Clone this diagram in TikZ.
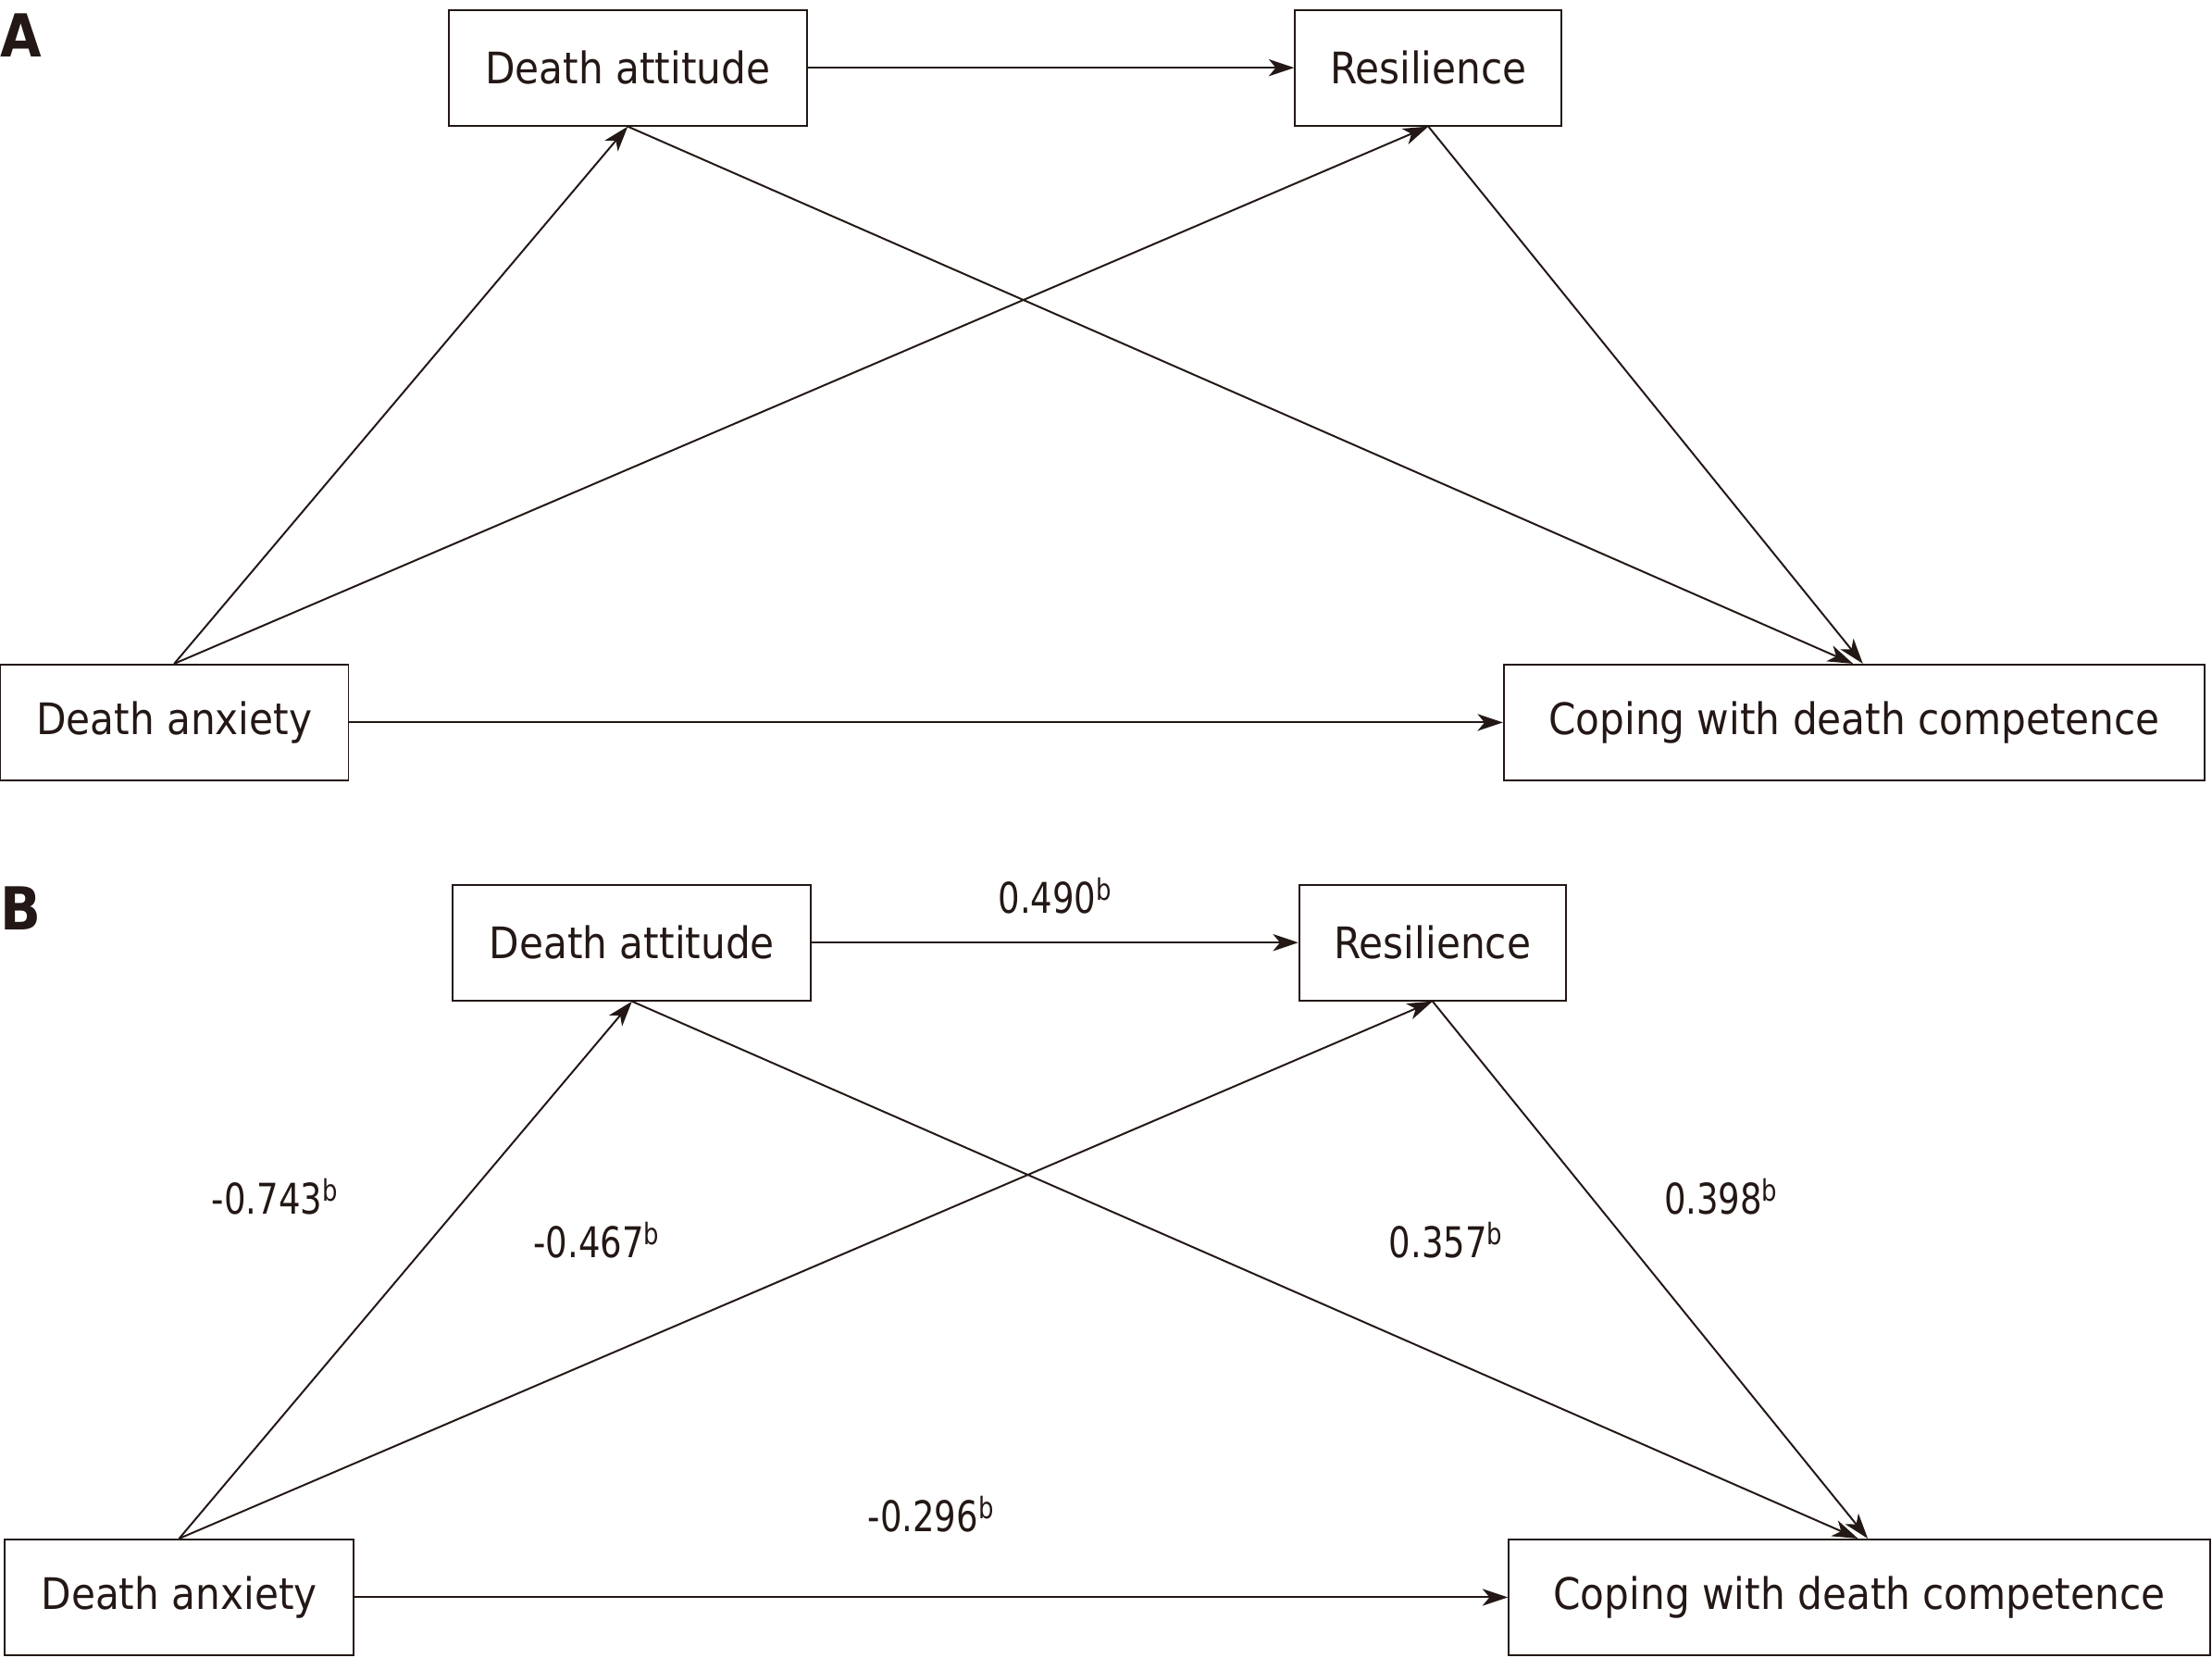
\documentclass[tikz,border=0pt]{standalone}
\usepackage{fontspec}
\setmainfont{DejaVu Sans Condensed}
\newfontfamily\numfont[FakeStretch=0.9]{DejaVu Sans Condensed}
\usetikzlibrary{arrows.meta}
\definecolor{ink}{HTML}{231815}
\begin{document}
\begin{tikzpicture}[x=1pt,y=-1pt,
  box/.style={draw=ink,line width=1.3pt,inner sep=0pt,minimum height=82pt,text=ink,font=\fontsize{30.8}{36}\selectfont},
  conn/.style={draw=ink,line width=1.3pt,-{Stealth[length=18pt,width=12pt,inset=5pt]}},
  lbl/.style={text=ink,inner sep=0pt,font=\numfont\fontsize{30}{35}\selectfont},
  panel/.style={text=ink,inner sep=0pt,font=\fontsize{42}{48}\bfseries\selectfont}]
\useasboundingbox (0,0) rectangle (1568,1175);
% Panel A
\node[panel] (pa) at (15,25) {A};
\node[box,minimum width=254pt] (aDA) at (445,48) {Death attitude};
\node[box,minimum width=189pt] (aR) at (1012.5,48) {Resilience};
\node[box,minimum width=247pt] (aX) at (123.5,512) {Death anxiety};
\node[box,minimum width=497pt] (aC) at (1314.5,512) {Coping with death competence};
\draw[conn] (aDA.east) -- (aR.west);
\draw[conn] (aX.north) -- (aDA.south);
\draw[conn] (aX.north) -- (aR.south);
\draw[conn] (aDA.south) -- ([xshift=-1pt]aC.north);
\draw[conn] (aR.south) -- ([xshift=6pt]aC.north);
\draw[conn] (aX.east) -- (aC.west);
% Panel B
\node[panel] (pb) at (15,644) {B};
\node[box,minimum width=254pt] (bDA) at (448,668) {Death attitude};
\node[box,minimum width=189pt] (bR) at (1015.5,668) {Resilience};
\node[box,minimum width=247pt] (bX) at (127,1132) {Death anxiety};
\node[box,minimum width=497pt] (bC) at (1318,1132) {Coping with death competence};
\draw[conn] (bDA.east) -- (bR.west);
\draw[conn] (bX.north) -- (bDA.south);
\draw[conn] (bX.north) -- (bR.south);
\draw[conn] (bDA.south) -- ([xshift=-1pt]bC.north);
\draw[conn] (bR.south) -- ([xshift=6pt]bC.north);
\draw[conn] (bX.east) -- (bC.west);
\node[lbl] (l1) at (748,635) {0.490\textsuperscript{b}};
\node[lbl] (l2) at (195,848) {-0.743\textsuperscript{b}};
\node[lbl] (l3) at (423,879) {-0.467\textsuperscript{b}};
\node[lbl] (l4) at (1025,879) {0.357\textsuperscript{b}};
\node[lbl] (l5) at (1220,848) {0.398\textsuperscript{b}};
\node[lbl] (l6) at (660,1073) {-0.296\textsuperscript{b}};
\end{tikzpicture}
\end{document}
